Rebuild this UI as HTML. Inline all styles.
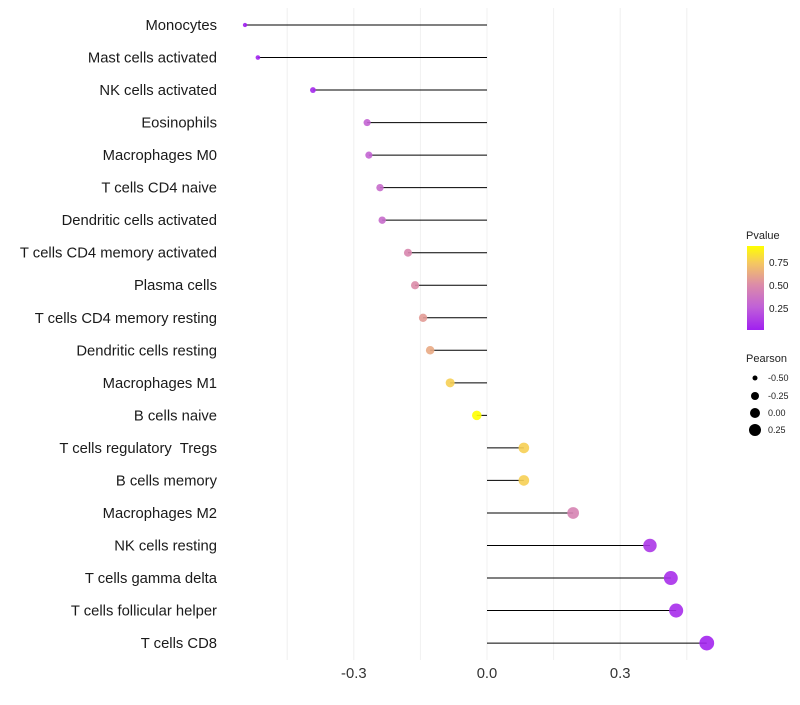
<!DOCTYPE html>
<html><head><meta charset="utf-8"><style>
body{margin:0;background:#fff;font-family:"Liberation Sans",sans-serif}
</style></head><body>
<svg width="800" height="700" xmlns="http://www.w3.org/2000/svg">
<defs><linearGradient id="pg" x1="0" y1="1" x2="0" y2="0">
<stop offset="0" stop-color="#A020F0"/><stop offset="0.27" stop-color="#C060D8"/><stop offset="0.54" stop-color="#DC8CA8"/><stop offset="0.8" stop-color="#F5C860"/><stop offset="1" stop-color="#FFFF00"/></linearGradient></defs>
<g id="grid"></g><g id="marks"></g><g id="labels"></g><g id="xaxis"></g>
<g font-size="10" fill="#222">
<text x="746" y="239" font-size="11">Pvalue</text>
<rect x="747" y="246" width="17" height="84" fill="url(#pg)"/>
<text x="769" y="266">0.75</text><text x="769" y="289">0.50</text><text x="769" y="312">0.25</text>
<text x="746" y="362" font-size="11">Pearson</text>
<circle cx="755" cy="378" r="2.5" fill="#000"/><text x="768" y="381" font-size="9">-0.50</text>
<circle cx="755" cy="396" r="4" fill="#000"/><text x="768" y="399" font-size="9">-0.25</text>
<circle cx="755" cy="413" r="5" fill="#000"/><text x="768" y="416" font-size="9">0.00</text>
<circle cx="755" cy="430" r="6" fill="#000"/><text x="768" y="433" font-size="9">0.25</text>
</g>
</svg>
<script>
const categories=["Monocytes","Mast cells activated","NK cells activated","Eosinophils","Macrophages M0","T cells CD4 naive","Dendritic cells activated","T cells CD4 memory activated","Plasma cells","T cells CD4 memory resting","Dendritic cells resting","Macrophages M1","B cells naive","T cells regulatory  Tregs","B cells memory","Macrophages M2","NK cells resting","T cells gamma delta","T cells follicular helper","T cells CD8"];
const pearson=[-0.545,-0.516,-0.392,-0.270,-0.266,-0.241,-0.236,-0.178,-0.162,-0.144,-0.128,-0.083,-0.023,0.083,0.083,0.194,0.367,0.414,0.426,0.495];
const pvalue=[0.01,0.02,0.05,0.28,0.28,0.32,0.32,0.47,0.5,0.56,0.62,0.76,0.92,0.76,0.76,0.45,0.1,0.07,0.06,0.03];
const xTicks=[-0.3,0,0.3];
const xTickLabels=["-0.3","0.0","0.3"];
const minorTicks=[-0.45,-0.15,0.15,0.45];
const NS="http://www.w3.org/2000/svg";
const x=v=>487+v*444;
const y=i=>25+i*32.53;
function col(p){const t=Math.max(0,Math.min(1,(p-0.01)/0.91));
const st=[[0,[160,32,240]],[0.27,[192,96,216]],[0.54,[220,140,168]],[0.8,[245,200,96]],[1,[255,255,0]]];
for(let k=1;k<st.length;k++){if(t<=st[k][0]){const a=st[k-1],b=st[k],f=(t-a[0])/(b[0]-a[0]);return 'rgb('+a[1].map((c,j)=>Math.round(c+(b[1][j]-c)*f)).join(',')+')';}}return 'rgb(255,255,0)';}
function mk(tag,at,parent){const e=document.createElementNS(NS,tag);for(const k in at)e.setAttribute(k,at[k]);document.getElementById(parent).appendChild(e);return e;}
[...xTicks,...minorTicks].forEach(v=>{const l=mk('line',{x1:x(v),x2:x(v),y1:8,y2:660,stroke:'#f0f0f0','stroke-width':1},'grid');

});
categories.forEach((c,i)=>{
const ln=mk('line',{x1:x(0),x2:x(pearson[i]),y1:y(i),y2:y(i),stroke:'#000','stroke-width':1},'marks');


const r=Math.max(1.5,4.9+5*pearson[i]);
const d=mk('circle',{cx:x(pearson[i]),cy:y(i),r:r,fill:col(pvalue[i]),'fill-opacity':0.9},'marks');


const t=mk('text',{x:217,y:y(i)+5,'text-anchor':'end','font-size':14.8,fill:'#1a1a1a'},'labels');
t.setAttribute('xml:space','preserve');
t.style.whiteSpace='pre';
t.textContent=c;

});
xTicks.forEach((v,i)=>{const t=mk('text',{x:x(v),y:678,'text-anchor':'middle','font-size':14.8,fill:'#333'},'xaxis');
t.textContent=xTickLabels[i];

});
</script>
</body></html>
